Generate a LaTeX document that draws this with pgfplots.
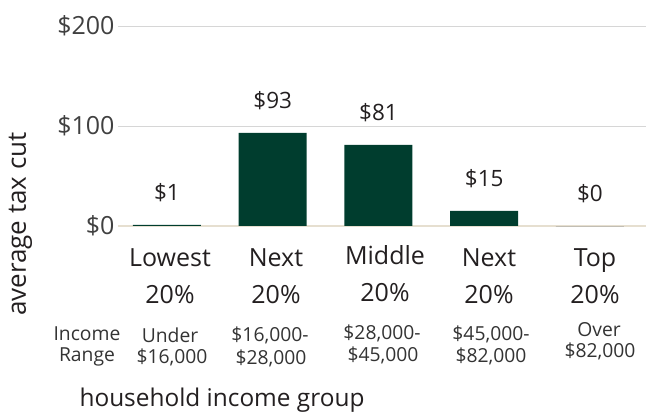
\documentclass[border=0pt]{standalone}
\usepackage{fontspec}
\setmainfont{Open Sans}
\usepackage{pgfplots}
\pgfplotsset{compat=1.18}
\definecolor{bargreen}{HTML}{003D2E}
\definecolor{basetan}{HTML}{E6DFD0}
\definecolor{gridgray}{HTML}{D6D6D6}
\definecolor{ticktext}{HTML}{404040}
\definecolor{maintext}{HTML}{231F20}
\definecolor{subtext}{HTML}{333333}
\definecolor{zerogray}{HTML}{B0ADA5}
\begin{document}
\begin{tikzpicture}[x=1pt,y=1pt]
\useasboundingbox (0,0) rectangle (646,414);
\begin{axis}[
  at={(118pt,188pt)}, anchor=south west,
  scale only axis, width=528pt, height=200pt,
  xmin=-0.463, xmax=4.53, ymin=0, ymax=200,
  ytick={0,100,200}, yticklabels={\$0,\$100,\$200},
  xtick=\empty,
  ymajorgrids, grid style={gridgray, line width=0.9pt},
  axis line style={draw=none}, major tick style={draw=none},
  yticklabel style={font=\fontsize{25}{25}\selectfont, text=ticktext},
  extra y ticks={0}, extra y tick labels={},
  extra y tick style={grid style={basetan, line width=2.2pt}},
  clip=false,
  /pgf/number format/assume math mode=true,
  nodes near coords={\$\pgfmathprintnumber{\pgfplotspointmeta}},
  every node near coord/.style={anchor=base, yshift=24pt, font=\fontsize{22.5}{22.5}\selectfont, text=maintext},
]
\addplot[ybar, bar width=68pt, fill=bargreen, draw=none] coordinates {(0,1) (1,93) (2,81) (3,15)};
\addplot[ybar, bar width=68pt, fill=none, draw=zerogray, line width=0.9pt] coordinates {(4,0)};
\end{axis}
% category labels
\begin{scope}[every node/.style={anchor=base, font=\fontsize{25}{25}\selectfont, text=maintext, inner sep=0pt}]
\node at (170,147) {Lowest}; \node at (170,110) {20\%};
\node at (276,147) {Next};   \node at (276,110) {20\%};
\node at (385,149) {Middle}; \node at (385,112) {20\%};
\node at (489,147) {Next};   \node at (489,110) {20\%};
\node at (595,147) {Top};    \node at (595,110) {20\%};
\end{scope}
% income range labels
\begin{scope}[every node/.style={anchor=base, font=\fontsize{19.3}{19.3}\selectfont, text=subtext, inner sep=0pt}]
\node at (87,73) {Income};    \node at (87,52) {Range};
\node at (170,71) {Under};    \node at (172,50) {\$16,000};
\node at (270,72) {\$16,000-};\node at (271,49) {\$28,000};
\node at (382,74) {\$28,000-};\node at (383,52) {\$45,000};
\node at (491,73) {\$45,000-};\node at (491,51) {\$82,000};
\node at (599,77) {Over};     \node at (600,56) {\$82,000};
\end{scope}
\node[anchor=base, font=\fontsize{24.4}{24.4}\selectfont, text=maintext, inner sep=0pt] at (222,7) {household income group};
\node[rotate=90, anchor=base, font=\fontsize{26}{26}\selectfont, text=maintext, inner sep=0pt] at (26,190) {average tax cut};
\end{tikzpicture}
\end{document}
